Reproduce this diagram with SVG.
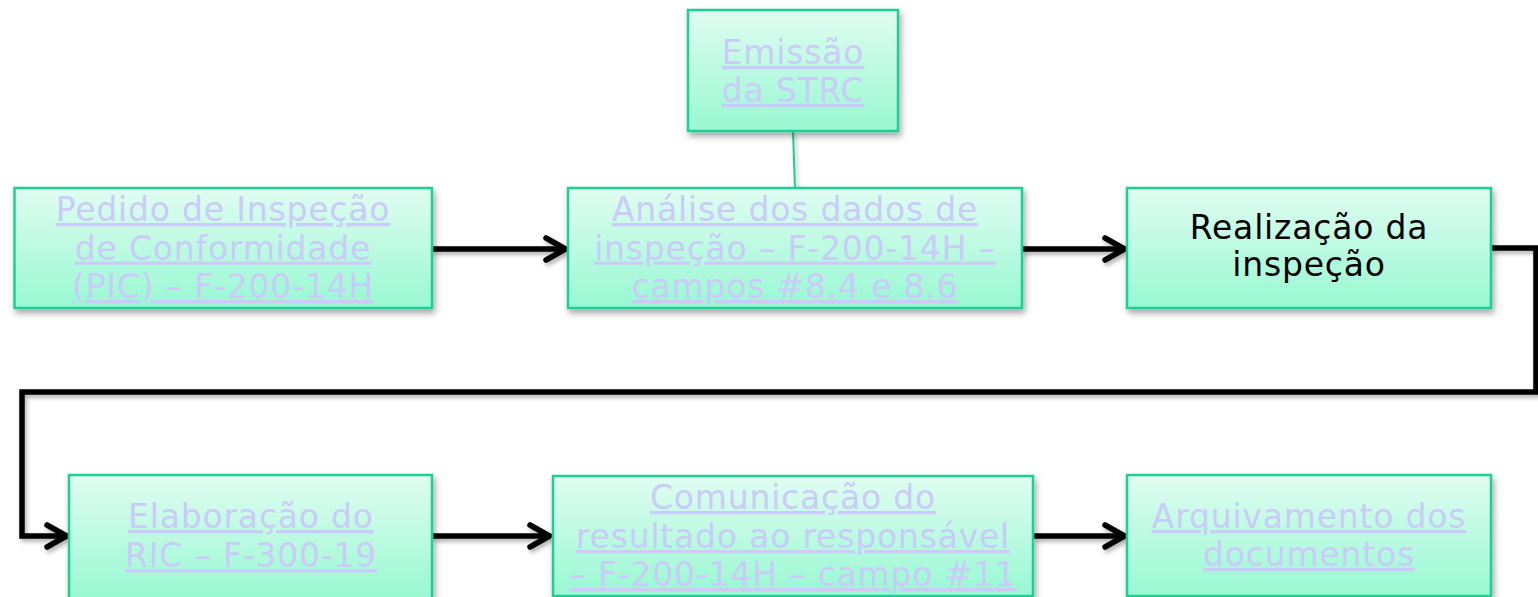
<svg xmlns="http://www.w3.org/2000/svg" width="1538" height="597" viewBox="0 0 1538 597">
<defs>
<linearGradient id="g" x1="0" y1="0" x2="0" y2="1">
<stop offset="0" stop-color="#e0fdf1"/>
<stop offset="1" stop-color="#98f8d2"/>
</linearGradient>
<filter id="sh" x="-10%" y="-10%" width="130%" height="140%">
<feDropShadow dx="2" dy="4" stdDeviation="3" flood-color="#000" flood-opacity="0.35"/>
</filter>
<filter id="lsh" x="-5%" y="-20%" width="110%" height="150%">
<feDropShadow dx="2" dy="3" stdDeviation="2" flood-color="#000" flood-opacity="0.3"/>
</filter>
<marker id="arr" markerUnits="userSpaceOnUse" viewBox="-30 -20 40 40" markerWidth="40" markerHeight="40" refX="0" refY="0" orient="auto" overflow="visible">
<path d="M-21,-11 L-1.5,0 L-21,11" fill="none" stroke="#000" stroke-width="5.5" stroke-linecap="round" stroke-linejoin="round"/>
</marker>
</defs>
<style>
.box{fill:url(#g);stroke:#1fcf97;stroke-width:2.5;filter:url(#sh)}
.t{font-family:"DejaVu Sans",Verdana,sans-serif;font-size:33px;letter-spacing:0.8px;text-anchor:middle}
.lnk{fill:#cbcbf9;text-decoration:underline}
.blk{fill:#000}
.c{fill:none;stroke:#000;stroke-width:5.5;stroke-linejoin:miter}
</style>
<g id="connectors" filter="url(#lsh)">
<line x1="793" y1="131" x2="795" y2="188" stroke="#1fcf97" stroke-width="2"/>
<path class="c" d="M432,249 L567,249" marker-end="url(#arr)"/>
<path class="c" d="M1022,249 L1126,249" marker-end="url(#arr)"/>
<path class="c" d="M1491,248 L1536,248 L1536,392 L22,392 L22,536 L68,536" marker-end="url(#arr)"/>
<path class="c" d="M432,536 L551,536" marker-end="url(#arr)"/>
<path class="c" d="M1033,536 L1126,536" marker-end="url(#arr)"/>
</g>
<g id="emissao">
<rect class="box" x="688" y="10" width="210" height="121"/>
<text class="t lnk" x="793" y="64">Emissão</text>
<text class="t lnk" x="793" y="102">da STRC</text>
</g>
<g id="pedido">
<rect class="box" x="14.5" y="188" width="417.5" height="120"/>
<text class="t lnk" x="223" y="221">Pedido de Inspeção</text>
<text class="t lnk" x="223" y="259.5">de Conformidade</text>
<text class="t lnk" x="223" y="298">(PIC) – F-200-14H</text>
</g>
<g id="analise">
<rect class="box" x="568" y="188" width="454" height="120"/>
<text class="t lnk" x="795" y="221">Análise dos dados de</text>
<text class="t lnk" x="795" y="259.5">inspeção – F-200-14H –</text>
<text class="t lnk" x="795" y="298">campos #8.4 e 8.6</text>
</g>
<g id="realizacao">
<rect class="box" x="1127" y="188" width="364" height="120"/>
<text class="t blk" x="1309" y="239">Realização da</text>
<text class="t blk" x="1309" y="276">inspeção</text>
</g>
<g id="elaboracao">
<rect class="box" x="69" y="475" width="363" height="124"/>
<text class="t lnk" x="251" y="528">Elaboração do</text>
<text class="t lnk" x="251" y="567">RIC – F-300-19</text>
</g>
<g id="comunicacao">
<rect class="box" x="553" y="476" width="480" height="120"/>
<text class="t lnk" x="793" y="509">Comunicação do</text>
<text class="t lnk" x="793" y="548">resultado ao responsável</text>
<text class="t lnk" x="793" y="586">– F-200-14H – campo #11</text>
</g>
<g id="arquivamento">
<rect class="box" x="1127" y="475" width="364" height="121"/>
<text class="t lnk" x="1309" y="528">Arquivamento dos</text>
<text class="t lnk" x="1309" y="566">documentos</text>
</g>
</svg>
